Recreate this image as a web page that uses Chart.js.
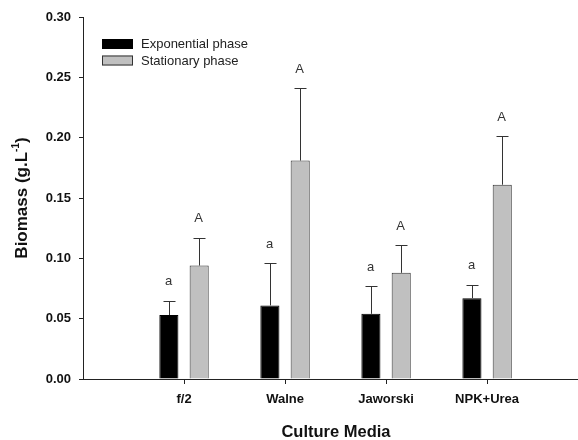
<!DOCTYPE html>
<html>
<head>
<meta charset="utf-8">
<script src="https://cdn.jsdelivr.net/npm/chart.js@4.4.1/dist/chart.umd.min.js"></script>
<style>
  html, body { margin: 0; padding: 0; background: #fff; overflow: hidden; }
  canvas { display: block; }
</style>
</head>
<body>
<canvas id="biomassChart" width="578" height="440"></canvas>
<script>
// dados
const categories = ['f/2', 'Walne', 'Jaworski', 'NPK+Urea'];
const exponential = [0.053, 0.061, 0.054, 0.067];
const exponentialErr = [0.012, 0.035, 0.023, 0.011];
const stationary = [0.094, 0.181, 0.088, 0.161];
const stationaryErr = [0.023, 0.060, 0.023, 0.040];
const exponentialLetters = ['a', 'a', 'a', 'a'];
const stationaryLetters = ['A', 'A', 'A', 'A'];
const yTicks = [0, 0.05, 0.10, 0.15, 0.20, 0.25, 0.30];

const FONT = '"Liberation Sans", Arial, sans-serif';

// barras de erro + letras + legenda + títulos dos eixos
const extrasPlugin = {
    id: 'extras',
    afterDatasetsDraw(chart) {
        const ctx = chart.ctx;
        const yScale = chart.scales.y;
        const errs = [exponentialErr, stationaryErr];
        const letters = [exponentialLetters, stationaryLetters];
        ctx.save();
        chart.data.datasets.forEach((ds, di) => {
            const meta = chart.getDatasetMeta(di);
            meta.data.forEach((bar, i) => {
                const v = ds.data[i].y;
                const yTop = yScale.getPixelForValue(v + errs[di][i]);
                const x = Math.round(bar.x) + 0.5;
                ctx.strokeStyle = '#333';
                ctx.lineWidth = 1;
                ctx.beginPath();
                ctx.moveTo(x, bar.y);
                ctx.lineTo(x, Math.round(yTop) + 0.5);
                ctx.moveTo(x - 6, Math.round(yTop) + 0.5);
                ctx.lineTo(x + 6, Math.round(yTop) + 0.5);
                ctx.stroke();
                ctx.fillStyle = '#333';
                ctx.font = '13px ' + FONT;
                ctx.textAlign = 'center';
                ctx.textBaseline = 'middle';
                ctx.fillText(letters[di][i], x - 1, yTop - 19);
            });
        });
        ctx.restore();
    },
    afterDraw(chart) {
        const ctx = chart.ctx;
        const area = chart.chartArea;
        ctx.save();
        // legenda
        const items = [
            { label: 'Exponential phase', fill: '#000000', stroke: '#000000' },
            { label: 'Stationary phase', fill: '#c0c0c0', stroke: '#333333' }
        ];
        items.forEach((it, k) => {
            const y = 39 + k * 16.5;
            ctx.fillStyle = it.fill;
            ctx.strokeStyle = it.stroke;
            ctx.lineWidth = 1;
            ctx.fillRect(102, y, 31, 10);
            ctx.strokeRect(102.5, y + 0.5, 30, 9);
            ctx.fillStyle = '#222';
            ctx.font = '13px ' + FONT;
            ctx.textAlign = 'left';
            ctx.textBaseline = 'middle';
            ctx.fillText(it.label, 141, y + 5.5);
        });
        // título do eixo x
        ctx.fillStyle = '#111';
        ctx.font = 'bold 16.5px ' + FONT;
        ctx.textAlign = 'center';
        ctx.textBaseline = 'middle';
        ctx.fillText('Culture Media', 336, 432);
        // título do eixo y, com expoente
        const main = 'Biomass (g.L';
        const sup = '-1';
        const end = ')';
        ctx.font = 'bold 17px ' + FONT;
        const wMain = ctx.measureText(main).width;
        const wEnd = ctx.measureText(end).width;
        ctx.font = 'bold 10px ' + FONT;
        const wSup = ctx.measureText(sup).width;
        const total = wMain + wSup + wEnd;
        const cy = (area.top + area.bottom) / 2;
        ctx.translate(22, cy);
        ctx.rotate(-Math.PI / 2);
        ctx.textAlign = 'left';
        ctx.textBaseline = 'middle';
        let x0 = -total / 2;
        ctx.font = 'bold 17px ' + FONT;
        ctx.fillText(main, x0, 0);
        ctx.font = 'bold 10px ' + FONT;
        ctx.fillText(sup, x0 + wMain, -6);
        ctx.font = 'bold 17px ' + FONT;
        ctx.fillText(end, x0 + wMain + wSup, 0);
        ctx.restore();
    }
};

new Chart(document.getElementById('biomassChart').getContext('2d'), {
    type: 'bar',
    data: {
        datasets: [
            {
                label: 'Exponential phase',
                data: exponential.map((v, i) => ({ x: i + 1, y: v })),
                backgroundColor: '#000000',
                borderColor: '#000000',
                borderWidth: 1
            },
            {
                label: 'Stationary phase',
                data: stationary.map((v, i) => ({ x: i + 1, y: v })),
                backgroundColor: '#c0c0c0',
                borderColor: '#333333',
                borderWidth: 1
            }
        ]
    },
    options: {
        responsive: false,
        animation: false,
        categoryPercentage: 0.6,
        barPercentage: 0.63,
        layout: { padding: { top: 17, right: 0, bottom: 0, left: 0 } },
        plugins: {
            legend: { display: false },
            tooltip: { enabled: false }
        },
        scales: {
            x: {
                type: 'linear',
                min: 0,
                max: 4.9,
                offset: false,
                afterFit(scale) { scale.height = 61; },
                afterBuildTicks(scale) {
                    scale.ticks = categories.map((c, i) => ({ value: i + 1 }));
                },
                ticks: {
                    autoSkip: false,
                    maxRotation: 0,
                    padding: 8,
                    color: '#111',
                    font: { family: FONT, size: 13, weight: 'bold' },
                    callback: (v) => categories[v - 1] || ''
                },
                grid: { offset: false, drawOnChartArea: false, tickLength: 5, color: '#222' },
                border: { display: true, color: '#222', width: 1 }
            },
            y: {
                min: 0,
                max: 0.30,
                afterFit(scale) { scale.width = 83; },
                afterBuildTicks(scale) {
                    scale.ticks = yTicks.map(v => ({ value: v }));
                },
                ticks: {
                    padding: 8,
                    color: '#111',
                    font: { family: FONT, size: 13, weight: 'bold' },
                    callback: (v) => v.toFixed(2)
                },
                grid: { drawOnChartArea: false, tickLength: 4, color: '#222' },
                border: { display: true, color: '#222', width: 1 }
            }
        }
    },
    plugins: [extrasPlugin]
});
</script>
</body>
</html>
